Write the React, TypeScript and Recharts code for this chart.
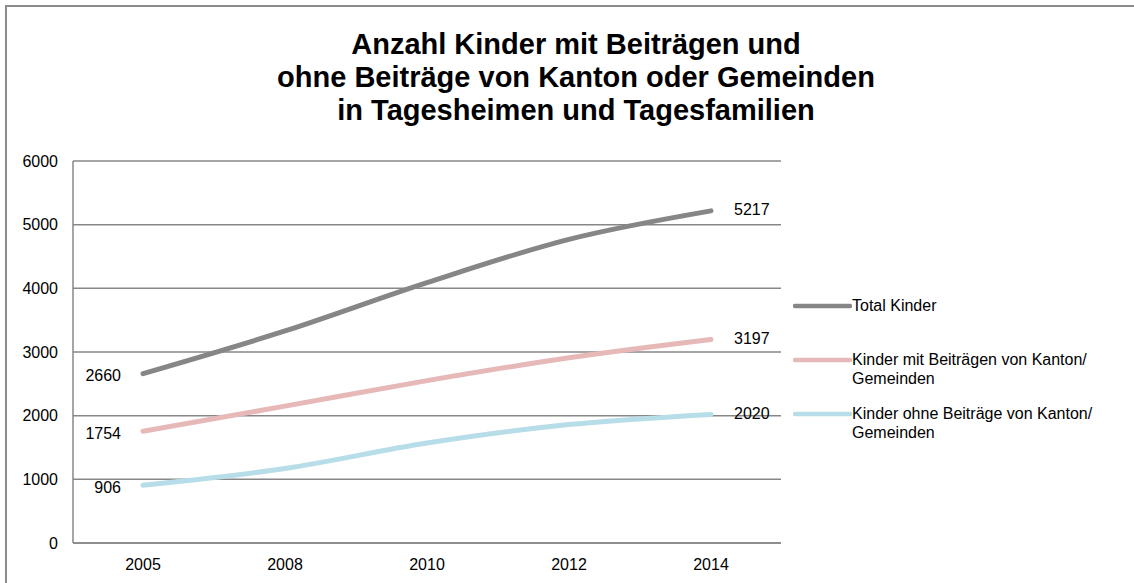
import { LineChart, Line, XAxis, YAxis, CartesianGrid, LabelList } from 'recharts'

const years = ['2005', '2008', '2010', '2012', '2014']
const totalKinder = [2660, 3330, 4090, 4770, 5217]
const mitBeitraegen = [1754, 2150, 2550, 2910, 3197]
const ohneBeitraege = [906, 1170, 1570, 1860, 2020]
const yTicks = [0, 1000, 2000, 3000, 4000, 5000, 6000]

const data = years.map((year, i) => ({
  year,
  total: totalKinder[i],
  mit: mitBeitraegen[i],
  ohne: ohneBeitraege[i],
}))

const FONT = '"Liberation Sans", Arial, sans-serif'
const GRID = '#878787'

const series = [
  { key: 'total', color: '#868686', label: ['Total Kinder'] },
  { key: 'mit', color: '#e6b9b8', label: ['Kinder mit Beiträgen von Kanton/', 'Gemeinden'] },
  { key: 'ohne', color: '#b7dde8', label: ['Kinder ohne Beiträge von Kanton/', 'Gemeinden'] },
]

// first and last point get a value label, like in the Excel original
const endLabel = (props: any) => {
  const { x, y, value, index } = props
  if (index === 0) {
    return (
      <text x={x - 22} y={y + 3} textAnchor="end" dominantBaseline="middle" fontSize={16} fontFamily={FONT} fill="#000">
        {value}
      </text>
    )
  }
  if (index === years.length - 1) {
    return (
      <text x={x + 23} y={y} textAnchor="start" dominantBaseline="middle" fontSize={16} fontFamily={FONT} fill="#000">
        {value}
      </text>
    )
  }
  return null
}

function LegendBox() {
  const rows = [306, 360, 414]
  return (
    <div style={{ position: 'absolute', left: 793, top: 0, fontFamily: FONT, fontSize: 16, color: '#000' }}>
      {series.map((s, i) => (
        <div key={s.key} style={{ position: 'absolute', left: 0, top: rows[i] - 10, width: 340, display: 'flex', alignItems: 'flex-start' }}>
          <svg width={59} height={20} style={{ flex: 'none' }}>
            <line x1={2} y1={10} x2={57} y2={10} stroke={s.color} strokeWidth={4.5} strokeLinecap="round" />
          </svg>
          <div style={{ lineHeight: '19px' }}>
            {s.label.map((t) => (
              <div key={t}>{t}</div>
            ))}
          </div>
        </div>
      ))}
    </div>
  )
}

export default function App() {
  return (
    <div style={{ position: 'absolute', left: 0, top: 0, width: 1134, height: 583, overflow: 'hidden', background: '#fff' }}>
      <div style={{ position: 'absolute', left: 5, top: 5, width: 1200, height: 700, border: '2px solid #8c8c8c', boxSizing: 'border-box' }} />
      <div
        style={{
          position: 'absolute',
          left: 0,
          width: 1152,
          top: 28,
          textAlign: 'center',
          fontFamily: FONT,
          fontWeight: 'bold',
          fontSize: 29,
          lineHeight: '33px',
          color: '#000',
        }}
      >
        <div>Anzahl Kinder mit Beiträgen und</div>
        <div>ohne Beiträge von Kanton oder Gemeinden</div>
        <div>in Tagesheimen und Tagesfamilien</div>
      </div>
      <div style={{ position: 'absolute', left: 0, top: 0 }}>
        <LineChart width={1134} height={583} data={data} margin={{ top: 161, right: 353, left: 13, bottom: 10 }}>
          <CartesianGrid vertical={false} stroke={GRID} strokeWidth={1.5} />
          <XAxis
            dataKey="year"
            padding={{ left: 70, right: 70 }}
            height={30}
            tickLine={false}
            axisLine={{ stroke: GRID, strokeWidth: 1.5 }}
            tickMargin={10}
            tick={{ fontSize: 16, fontFamily: FONT, fill: '#000' }}
          />
          <YAxis
            width={60}
            domain={[0, 6000]}
            ticks={yTicks}
            interval={0}
            tickLine={false}
            axisLine={{ stroke: GRID, strokeWidth: 1.5 }}
            tickMargin={9}
            tick={{ fontSize: 16, fontFamily: FONT, fill: '#000' }}
          />
          {series.map((s) => (
            <Line
              key={s.key}
              type="monotone"
              dataKey={s.key}
              stroke={s.color}
              strokeWidth={5}
              strokeLinecap="round"
              dot={false}
              activeDot={false}
              isAnimationActive={false}
            >
              <LabelList dataKey={s.key} content={endLabel} />
            </Line>
          ))}
        </LineChart>
      </div>
      <LegendBox />
    </div>
  )
}
